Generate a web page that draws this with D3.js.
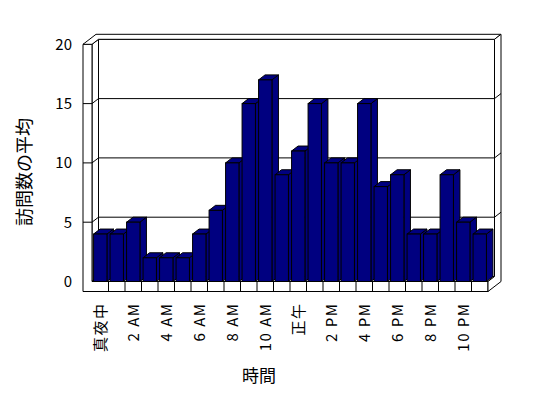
<!DOCTYPE html>
<html>
<head>
<meta charset="utf-8">
<script src="https://cdn.jsdelivr.net/npm/d3@7"></script>
<style>
  body { margin: 0; background: #fff; }
  text { font-family: "Noto Sans CJK JP", "DejaVu Sans", sans-serif; fill: #000; }
</style>
</head>
<body>
<svg id="chart" width="548" height="398"></svg>
<script>
// data
var hours = ["真夜中", "1 AM", "2 AM", "3 AM", "4 AM", "5 AM", "6 AM", "7 AM", "8 AM", "9 AM", "10 AM", "11 AM",
             "正午", "1 PM", "2 PM", "3 PM", "4 PM", "5 PM", "6 PM", "7 PM", "8 PM", "9 PM", "10 PM", "11 PM"];
var visits = [4, 4, 5, 2, 2, 2, 4, 6, 10, 15, 17, 9, 11, 15, 10, 10, 15, 8, 9, 4, 4, 9, 5, 4];
var yTicks = [0, 5, 10, 15, 20];
var xTickLabels = hours.filter(function (d, i) { return i % 2 == 0; });
var yTitle = "訪問数の平均";
var xTitle = "時間";

var svg = d3.select("#chart");

// frame: front plane of plot and oblique depth
var left = 92, right = 488, wallX = 83;
var floorH = 10;
var DX = 6.5, DY = -5;   // one unit of depth on screen

var xScale = d3.scaleBand().domain(hours).range([left, right])
    .paddingInner(0.19).paddingOuter(0.095);
var yScale = d3.scaleLinear().domain([0, 20]).range([281.5, 44.3]);

var y0 = yScale(0), yTop = yScale(20), yBot = y0 + floorH;

function P(x, y, z) { return [x + z * DX, y + z * DY]; }
function poly(pts) { return pts.map(function (p) { return p.join(","); }).join(" "); }

var frame = svg.append("g")
    .attr("fill", "#fff")
    .attr("stroke", "#000")
    .attr("stroke-width", 1);

// back wall inner face
frame.append("polygon")
    .attr("points", poly([P(left, yTop, 1), P(right, yTop, 1), P(right, y0, 1), P(left, y0, 1)]));

// left wall inner face
frame.append("polygon")
    .attr("points", poly([P(left, yTop, 0), P(left, yTop, 1), P(left, y0, 1), P(left, y0, 0)]));

// floor top
frame.append("polygon")
    .attr("points", poly([P(left, y0, 0), P(right, y0, 0), P(right, y0, 1), P(left, y0, 1)]));

// gridlines on back wall and left wall
var grid = [5, 10, 15];
frame.selectAll(".gridBack")
    .data(grid)
    .enter()
    .append("line")
    .attr("x1", d => P(left, yScale(d), 1)[0])
    .attr("y1", d => P(left, yScale(d), 1)[1])
    .attr("x2", d => P(right, yScale(d), 1)[0])
    .attr("y2", d => P(right, yScale(d), 1)[1]);

frame.selectAll(".gridSide")
    .data(grid)
    .enter()
    .append("line")
    .attr("x1", d => P(left, yScale(d), 0)[0])
    .attr("y1", d => P(left, yScale(d), 0)[1])
    .attr("x2", d => P(left, yScale(d), 1)[0])
    .attr("y2", d => P(left, yScale(d), 1)[1]);

// bars, left to right
var bars = svg.append("g")
    .attr("fill", "#000080")
    .attr("stroke", "#000")
    .attr("stroke-width", 1);

hours.forEach(function (h, i) {
    var x0 = xScale(h), x1 = x0 + xScale.bandwidth();
    var yv = yScale(visits[i]);
    bars.append("polygon")
        .attr("points", poly([P(x1, yv, 0), P(x1, yv, 1), P(x1, y0, 1), P(x1, y0, 0)]));
    bars.append("polygon")
        .attr("points", poly([P(x0, yv, 0), P(x1, yv, 0), P(x1, yv, 1), P(x0, yv, 1)]));
    bars.append("rect")
        .attr("x", x0)
        .attr("y", yv)
        .attr("width", x1 - x0)
        .attr("height", y0 - yv);
});

var front = svg.append("g")
    .attr("fill", "#fff")
    .attr("stroke", "#000")
    .attr("stroke-width", 1);

// front L face: left wall front + floor front
front.append("polygon")
    .attr("points", poly([[wallX, yTop], [left, yTop], [left, y0], [right, y0], [right, yBot], [wallX, yBot]]));

front.selectAll(".gridFront")
    .data(grid)
    .enter()
    .append("line")
    .attr("x1", wallX)
    .attr("x2", left)
    .attr("y1", d => yScale(d))
    .attr("y2", d => yScale(d));

// floor dividers between categories
var step = xScale.step();
var gap = (step - xScale.bandwidth()) / 2;
front.selectAll(".divider")
    .data(hours.slice(1))
    .enter()
    .append("line")
    .attr("x1", d => xScale(d) - gap)
    .attr("x2", d => xScale(d) - gap)
    .attr("y1", y0)
    .attr("y2", yBot);

// top face of walls
front.append("polygon")
    .attr("points", poly([P(wallX, yTop, 0), P(left, yTop, 0), P(left, yTop, 1), P(right, yTop, 1),
                          P(right, yTop, 2), P(wallX, yTop, 2)]));

// right face of back wall and floor
front.append("polygon")
    .attr("points", poly([P(right, yTop, 1), P(right, yTop, 2), P(right, yBot, 2), P(right, yBot, 0),
                          P(right, y0, 0), P(right, y0, 1)]));

front.selectAll(".gridRight")
    .data(grid)
    .enter()
    .append("line")
    .attr("x1", d => P(right, yScale(d), 1)[0])
    .attr("y1", d => P(right, yScale(d), 1)[1])
    .attr("x2", d => P(right, yScale(d), 2)[0])
    .attr("y2", d => P(right, yScale(d), 2)[1]);

// y axis labels
var yAxis = d3.axisLeft(yScale).tickValues(yTicks).tickSize(0).tickPadding(11);
var gy = svg.append("g")
    .attr("transform", "translate(" + wallX + ",0)")
    .call(yAxis);
gy.select(".domain").remove();
gy.selectAll("text")
    .style("font-family", "'Noto Sans CJK JP', sans-serif")
    .style("font-size", "15px");

// x axis labels, rotated
var xAxis = d3.axisBottom(xScale).tickValues(xTickLabels).tickSize(0).tickPadding(0);
var gx = svg.append("g")
    .attr("transform", "translate(0," + yBot + ")")
    .call(xAxis);
gx.select(".domain").remove();
gx.selectAll("text")
    .attr("transform", "rotate(-90)")
    .attr("x", -11)
    .attr("y", 0)
    .attr("dy", "0.35em")
    .style("text-anchor", "end")
    .style("font-family", "'Noto Sans CJK JP', sans-serif")
    .style("font-size", "15px")
    .style("letter-spacing", "1.5px");

// titles
svg.append("text")
    .attr("transform", "translate(25," + 172 + ") rotate(-90)")
    .attr("text-anchor", "middle")
    .attr("dy", "0.35em")
    .style("font-size", "18px")
    .text(yTitle);

svg.append("text")
    .attr("x", 259)
    .attr("y", 376)
    .attr("text-anchor", "middle")
    .attr("dy", "0.35em")
    .style("font-size", "17px")
    .text(xTitle);
</script>
</body>
</html>
